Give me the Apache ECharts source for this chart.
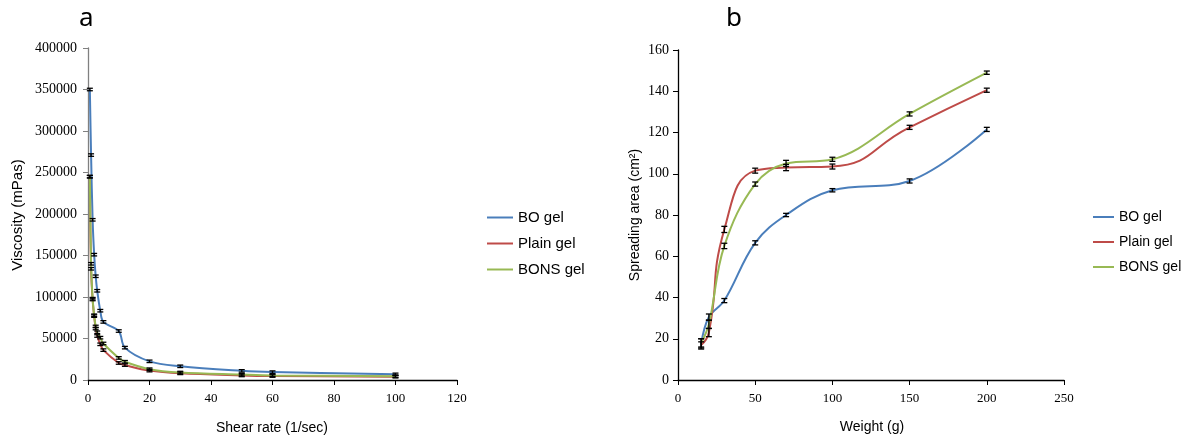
<!DOCTYPE html>
<html>
<head>
<meta charset="utf-8">
<script src="https://cdn.jsdelivr.net/npm/echarts@6/dist/echarts.min.js"></script>
<style>
html,body{margin:0;padding:0;background:#fff;}
#chart{width:1186px;height:441px;}
</style>
</head>
<body>
<div id="chart"></div>
<script>
// ---- Panel a: viscosity vs shear rate ----
const shearRate = [0.6, 1, 1.5, 2, 2.5, 3, 4, 5, 10, 12, 20, 30, 50, 60, 100];
const boGelVisc = [350000, 271000, 193000, 151000, 125000, 107500, 83500, 70000, 59000, 39000, 22500, 16500, 11000, 9500, 6800];
const plainGelVisc = [245000, 134000, 97000, 77000, 62000, 53000, 43000, 36000, 20500, 18000, 11300, 8000, 5500, 4800, 4000];
const bonsGelVisc = [245000, 140000, 98000, 78000, 64500, 57500, 51000, 44000, 26600, 22000, 13000, 9000, 6500, 5500, 4600];
const boGelViscErr = [1500, 1500, 1500, 1500, 1500, 1500, 1500, 1500, 1500, 1500, 1500, 1500, 1500, 1500, 1500];
const plainGelViscErr = [1500, 1500, 1500, 1500, 1500, 1500, 1500, 1500, 1500, 1500, 1500, 1500, 1500, 1500, 1500];
const bonsGelViscErr = [1500, 1500, 1500, 1500, 1500, 1500, 1500, 1500, 1500, 1500, 1500, 1500, 1500, 1500, 1500];
const viscTicksY = [0, 400000, 50000];
const shearTicksX = [0, 120, 20];

// ---- Panel b: spreading area vs weight ----
const weight = [15, 20, 30, 50, 70, 100, 150, 200];
const boGelArea = [17.5, 30.5, 38.5, 66.5, 80, 92, 96.5, 121.5];
const plainGelArea = [17, 23, 73, 101.5, 103, 103.5, 122.5, 140.5];
const bonsGelArea = [18, 27, 65, 95, 105, 107, 129, 149];
const boGelAreaErr = [2.5, 1.5, 1, 1, 0.8, 0.8, 1, 1];
const plainGelAreaErr = [1.5, 2, 1.5, 1.2, 1.5, 1.2, 1, 1];
const bonsGelAreaErr = [2, 2, 1.3, 1, 1.5, 1, 1, 0.8];
const areaTicksY = [0, 160, 20];
const weightTicksX = [0, 250, 50];

const seriesNames = ['BO gel', 'Plain gel', 'BONS gel'];
const colors = ['#4a7ebb', '#be4b48', '#98b954'];

const zip = (xs, ys) => xs.map((x, i) => [x, ys[i]]);
const zip3 = (xs, ys, es) => xs.map((x, i) => [x, ys[i], es[i]]);

function errRender(params, api) {
  const x = api.value(0), y = api.value(1), e = api.value(2);
  const t = api.coord([x, y + e]);
  const b = api.coord([x, y - e]);
  const w = 3;
  const st = {stroke: '#000', lineWidth: 1.3};
  return {
    type: 'group',
    children: [
      {type: 'line', shape: {x1: t[0], y1: t[1], x2: b[0], y2: b[1]}, style: st},
      {type: 'line', shape: {x1: t[0] - w, y1: t[1], x2: t[0] + w, y2: t[1]}, style: st},
      {type: 'line', shape: {x1: b[0] - w, y1: b[1], x2: b[0] + w, y2: b[1]}, style: st}
    ]
  };
}

const serif = 'Liberation Serif';
const sans = 'Liberation Sans';

function valAxis(idx, ticks, lineColor, labelSize, margin) {
  return {
    type: 'value', gridIndex: idx, min: ticks[0], max: ticks[1], interval: ticks[2],
    axisLine: {show: true, lineStyle: {color: lineColor, width: 1.3}},
    axisTick: {show: true, length: 5, lineStyle: {color: lineColor}},
    axisLabel: {color: '#000', fontFamily: serif, fontSize: labelSize, margin: margin, formatter: v => String(v)},
    splitLine: {show: false}
  };
}

const lineSeries = [];
const errSeries = [];
const panelA = [boGelVisc, plainGelVisc, bonsGelVisc];
const panelAErr = [boGelViscErr, plainGelViscErr, bonsGelViscErr];
const panelB = [boGelArea, plainGelArea, bonsGelArea];
const panelBErr = [boGelAreaErr, plainGelAreaErr, bonsGelAreaErr];

seriesNames.forEach((name, i) => {
  lineSeries.push({
    name: name, type: 'line', xAxisIndex: 0, yAxisIndex: 0,
    data: zip(shearRate, panelA[i]), smooth: 0.35, symbol: 'none',
    lineStyle: {color: colors[i], width: 2}, itemStyle: {color: colors[i]}, z: 2
  });
  lineSeries.push({
    name: name, type: 'line', xAxisIndex: 1, yAxisIndex: 1,
    data: zip(weight, panelB[i]), smooth: i === 1 ? 0.5 : 0.38, symbol: 'none',
    lineStyle: {color: colors[i], width: 2}, itemStyle: {color: colors[i]}, z: 2
  });
  errSeries.push({
    name: name + ' err a', type: 'custom', xAxisIndex: 0, yAxisIndex: 0,
    data: zip3(shearRate, panelA[i], panelAErr[i]), renderItem: errRender, z: 3, silent: true
  });
  errSeries.push({
    name: name + ' err b', type: 'custom', xAxisIndex: 1, yAxisIndex: 1,
    data: zip3(weight, panelB[i], panelBErr[i]), renderItem: errRender, z: 3, silent: true
  });
});

const chart = echarts.init(document.getElementById('chart'), null, {renderer: 'canvas'});
chart.setOption({
  backgroundColor: '#fff',
  animation: false,
  grid: [
    {left: 88, top: 48, width: 369, height: 332},
    {left: 678, top: 50, width: 386, height: 330}
  ],
  xAxis: [
    valAxis(0, shearTicksX, '#000', 13, 12),
    valAxis(1, weightTicksX, '#000', 13, 12)
  ],
  yAxis: [
    valAxis(0, viscTicksY, '#808080', 14, 11),
    valAxis(1, areaTicksY, '#000', 14, 9)
  ],
  legend: [
    {
      data: seriesNames, orient: 'vertical', left: 487, top: 210, padding: 0,
      icon: 'rect', itemWidth: 26, itemHeight: 2, itemGap: 11,
      textStyle: {fontFamily: sans, fontSize: 15, color: '#000'}
    },
    {
      data: seriesNames, orient: 'vertical', left: 1093, top: 210, padding: 0,
      icon: 'rect', itemWidth: 21, itemHeight: 2, itemGap: 11,
      textStyle: {fontFamily: sans, fontSize: 14, color: '#000'}
    }
  ],
  graphic: [
    {type: 'text', left: 79, top: 6, style: {text: 'a', font: '26px "Noto Sans"', fill: '#000'}},
    {type: 'text', left: 726, top: 6, style: {text: 'b', font: '26px "Noto Sans"', fill: '#000'}},
    {type: 'text', x: 18, y: 215, rotation: Math.PI / 2,
      style: {text: 'Viscosity (mPas)', font: '15px "Liberation Sans"', fill: '#000', align: 'center', verticalAlign: 'middle'}},
    {type: 'text', x: 272, y: 428,
      style: {text: 'Shear rate (1/sec)', font: '14px "Liberation Sans"', fill: '#000', align: 'center', verticalAlign: 'middle'}},
    {type: 'text', x: 635, y: 215, rotation: Math.PI / 2,
      style: {text: 'Spreading area (cm²)', font: '14px "Liberation Sans"', fill: '#000', align: 'center', verticalAlign: 'middle'}},
    {type: 'text', x: 872, y: 427,
      style: {text: 'Weight (g)', font: '14px "Liberation Sans"', fill: '#000', align: 'center', verticalAlign: 'middle'}}
  ],
  series: lineSeries.concat(errSeries)
});
</script>
</body>
</html>
